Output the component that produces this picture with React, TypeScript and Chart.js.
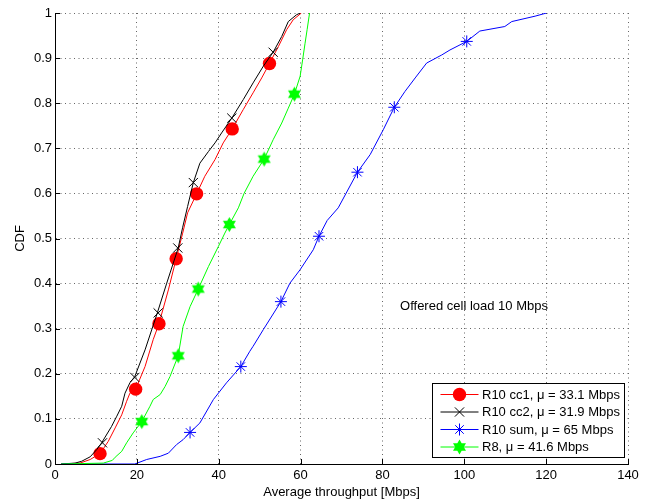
import React, { useEffect, useRef } from 'react';
import { Chart, registerables } from 'chart.js';

Chart.register(...registerables);

// ---- axis ticks ----
const xTicks = [0, 20, 40, 60, 80, 100, 120, 140];
const yTicks = [0, 0.1, 0.2, 0.3, 0.4, 0.5, 0.6, 0.7, 0.8, 0.9, 1];
const yTickLabels = ['0', '0.1', '0.2', '0.3', '0.4', '0.5', '0.6', '0.7', '0.8', '0.9', '1'];

const xAxisTitle = 'Average throughput [Mbps]';
const yAxisTitle = 'CDF';
const annotationText = 'Offered cell load 10 Mbps';
const annotationX = 84.3;
const annotationY = 0.349;

const seriesNames = [
  'R10 cc1, \u03bc = 33.1 Mbps',
  'R10 cc2, \u03bc = 31.9 Mbps',
  'R10 sum, \u03bc = 65 Mbps',
  'R8, \u03bc = 41.6 Mbps',
];
const seriesColors = ['#ff0000', '#000000', '#0000ff', '#00ff00'];

// ---- R10 cc1 (red) ----
const cc1X = [1.5, 6.1, 8.6, 11.0, 13.0, 14.7, 16.3, 17.5, 18.3, 19.7, 22.0, 24.0, 25.4, 27.7, 29.6, 31.2, 32.4, 34.6, 36.6, 39.1, 41.1, 43.3, 46.0, 48.4, 50.5, 52.4, 54.6, 56.6, 58.2, 60.2];
const cc1Y = [0, 0.002, 0.01, 0.023, 0.05, 0.08, 0.109, 0.139, 0.157, 0.166, 0.216, 0.276, 0.311, 0.386, 0.455, 0.512, 0.557, 0.599, 0.638, 0.675, 0.712, 0.743, 0.786, 0.823, 0.856, 0.888, 0.926, 0.963, 0.985, 1];
const cc1MarkX = [11.0, 19.7, 25.4, 29.6, 34.6, 43.3, 52.4];
const cc1MarkY = [0.023, 0.166, 0.311, 0.455, 0.599, 0.743, 0.888];

// ---- R10 cc2 (black) ----
const cc2X = [1.5, 4.9, 6.5, 8.6, 10.2, 11.4, 13.8, 15.1, 16.3, 17.1, 18.3, 19.5, 22.0, 25.0, 27.3, 30.1, 31.2, 32.4, 33.8, 35.4, 37.5, 39.1, 40.7, 43.2, 46.0, 48.4, 50.9, 53.3, 55.4, 57.0, 59.0, 59.9];
const cc2Y = [0, 0.002, 0.006, 0.016, 0.032, 0.047, 0.083, 0.106, 0.128, 0.157, 0.18, 0.194, 0.253, 0.335, 0.401, 0.479, 0.525, 0.571, 0.624, 0.667, 0.693, 0.712, 0.734, 0.767, 0.808, 0.845, 0.882, 0.913, 0.948, 0.981, 0.996, 1];
const cc2MarkX = [11.6, 19.5, 25.2, 30.0, 33.8, 43.2, 53.3];
const cc2MarkY = [0.047, 0.192, 0.335, 0.479, 0.624, 0.767, 0.913];

// ---- R10 sum (blue) ----
const sumX = [1.5, 19.5, 22.4, 25.7, 27.7, 29.7, 31.3, 33.0, 35.4, 38.7, 41.9, 45.4, 47.6, 48.4, 50.9, 55.2, 57.4, 59.9, 63.1, 64.5, 66.5, 69.2, 73.9, 77.0, 80.2, 82.9, 85.5, 88.0, 90.8, 94.5, 96.5, 100.6, 103.8, 109.9, 111.6, 117.3, 120.1];
const sumY = [0, 0, 0.01, 0.017, 0.024, 0.043, 0.054, 0.07, 0.091, 0.143, 0.18, 0.216, 0.25, 0.261, 0.298, 0.36, 0.401, 0.431, 0.475, 0.505, 0.54, 0.568, 0.647, 0.686, 0.741, 0.791, 0.826, 0.856, 0.889, 0.907, 0.918, 0.937, 0.96, 0.97, 0.981, 0.993, 1];
const sumMarkX = [33.0, 45.4, 55.2, 64.5, 73.9, 82.9, 100.6];
const sumMarkY = [0.07, 0.216, 0.36, 0.505, 0.647, 0.791, 0.937];

// ---- R8 (green) ----
const r8X = [1.5, 11.8, 14.0, 14.7, 16.3, 17.5, 19.1, 21.2, 23.2, 24.0, 25.7, 26.9, 28.1, 30.1, 31.3, 33.0, 35.0, 37.5, 39.9, 41.5, 42.6, 44.8, 46.2, 48.4, 51.1, 53.3, 55.4, 57.0, 58.5, 59.9, 60.5, 61.1, 61.6, 62.2];
const r8Y = [0, 0.002, 0.008, 0.015, 0.028, 0.047, 0.069, 0.094, 0.128, 0.143, 0.154, 0.172, 0.194, 0.24, 0.305, 0.349, 0.388, 0.438, 0.482, 0.512, 0.531, 0.568, 0.6, 0.638, 0.676, 0.719, 0.756, 0.789, 0.82, 0.86, 0.896, 0.933, 0.963, 1];
const r8MarkX = [21.2, 30.1, 35.0, 42.6, 51.1, 58.5];
const r8MarkY = [0.094, 0.24, 0.388, 0.531, 0.676, 0.82];

const FONT = '"Liberation Sans", Arial, Helvetica, sans-serif';

const zip = (xs: number[], ys: number[]) => xs.map((x, i) => ({ x, y: ys[i] }));

function hexagramPath(ctx: CanvasRenderingContext2D, cx: number, cy: number, r: number) {
  ctx.beginPath();
  for (let k = 0; k < 2; k++) {
    const off = k === 0 ? -Math.PI / 2 : Math.PI / 2;
    for (let i = 0; i < 3; i++) {
      const a = off + (i * 2 * Math.PI) / 3;
      const px = cx + r * Math.cos(a);
      const py = cy + r * Math.sin(a);
      if (i === 0) ctx.moveTo(px, py);
      else ctx.lineTo(px, py);
    }
    ctx.closePath();
  }
}

function makeHexagram(): HTMLCanvasElement {
  const c = document.createElement('canvas');
  c.width = 17;
  c.height = 17;
  const g = c.getContext('2d')!;
  hexagramPath(g, 8.5, 8.5, 7.5);
  g.fillStyle = '#00ff00';
  g.fill('nonzero');
  return c;
}

function drawMarker(ctx: CanvasRenderingContext2D, kind: number, cx: number, cy: number) {
  ctx.save();
  ctx.lineWidth = 1;
  if (kind === 0) {
    ctx.fillStyle = '#ff0000';
    ctx.beginPath();
    ctx.arc(cx, cy, 6.7, 0, Math.PI * 2);
    ctx.fill();
  } else if (kind === 1) {
    ctx.strokeStyle = '#000000';
    const d = 4.6;
    ctx.beginPath();
    ctx.moveTo(cx - d, cy - d);
    ctx.lineTo(cx + d, cy + d);
    ctx.moveTo(cx - d, cy + d);
    ctx.lineTo(cx + d, cy - d);
    ctx.stroke();
  } else if (kind === 2) {
    ctx.strokeStyle = '#0000ff';
    const r = 6;
    const d = r * Math.SQRT1_2;
    ctx.beginPath();
    ctx.moveTo(cx - r, cy);
    ctx.lineTo(cx + r, cy);
    ctx.moveTo(cx, cy - r);
    ctx.lineTo(cx, cy + r);
    ctx.moveTo(cx - d, cy - d);
    ctx.lineTo(cx + d, cy + d);
    ctx.moveTo(cx - d, cy + d);
    ctx.lineTo(cx + d, cy - d);
    ctx.stroke();
  } else {
    ctx.fillStyle = '#00ff00';
    hexagramPath(ctx, cx, cy, 7.5);
    ctx.fill('nonzero');
  }
  ctx.restore();
}

const overlayPlugin = {
  id: 'overlay',
  afterDatasetsDraw(chart: any) {
    const { ctx, chartArea, scales } = chart;
    const xs = scales.x;
    const ys = scales.y;
    ctx.save();
    // inward tick marks
    ctx.strokeStyle = '#000';
    ctx.lineWidth = 1;
    ctx.beginPath();
    for (const t of xTicks) {
      const px = Math.round(xs.getPixelForValue(t)) + 0.5;
      ctx.moveTo(px, chartArea.bottom);
      ctx.lineTo(px, chartArea.bottom - 5);
    }
    for (const t of yTicks) {
      const py = Math.round(ys.getPixelForValue(t)) + 0.5;
      ctx.moveTo(chartArea.left, py);
      ctx.lineTo(chartArea.left + 5, py);
    }
    ctx.stroke();

    // annotation
    ctx.fillStyle = '#000';
    ctx.font = '13px ' + FONT;
    ctx.textAlign = 'left';
    ctx.textBaseline = 'middle';
    ctx.fillText(annotationText, xs.getPixelForValue(annotationX), ys.getPixelForValue(annotationY));

    // legend box
    const bw = 192;
    const bh = 74;
    const bx = Math.round(chartArea.right - 4 - bw) + 0.5;
    const by = Math.round(chartArea.bottom - 7 - bh) + 0.5;
    ctx.fillStyle = '#ffffff';
    ctx.fillRect(bx, by, bw, bh);
    ctx.strokeStyle = '#000';
    ctx.lineWidth = 1;
    ctx.strokeRect(bx, by, bw, bh);
    for (let i = 0; i < seriesNames.length; i++) {
      const cy = by + 11 + i * 17.5;
      ctx.strokeStyle = seriesColors[i];
      ctx.lineWidth = 1;
      ctx.beginPath();
      ctx.moveTo(bx + 8, cy);
      ctx.lineTo(bx + 46, cy);
      ctx.stroke();
      drawMarker(ctx, i, bx + 27, cy);
      ctx.fillStyle = '#000';
      ctx.font = '13px ' + FONT;
      ctx.textAlign = 'left';
      ctx.textBaseline = 'middle';
      ctx.fillText(seriesNames[i], bx + 49.5, cy + 0.5);
    }
    ctx.restore();
  },
};

export default function App() {
  const ref = useRef<HTMLCanvasElement | null>(null);

  useEffect(() => {
    if (!ref.current) return;
    const hex = makeHexagram();
    const lineBase = {
      type: 'line' as const,
      pointRadius: 0,
      pointHoverRadius: 0,
      borderWidth: 1,
      tension: 0,
      fill: false,
    };
    const markBase = {
      type: 'line' as const,
      showLine: false,
      borderWidth: 1,
      pointHoverRadius: 0,
    };
    const chart = new Chart(ref.current, {
      type: 'line',
      data: {
        datasets: [
          { ...lineBase, label: seriesNames[0], data: zip(cc1X, cc1Y), borderColor: seriesColors[0], order: 8 },
          { ...markBase, label: 'm0', data: zip(cc1MarkX, cc1MarkY), pointStyle: 'circle', pointRadius: 6.7, pointBackgroundColor: '#ff0000', pointBorderColor: '#ff0000', pointBorderWidth: 0, order: 7 },
          { ...lineBase, label: seriesNames[1], data: zip(cc2X, cc2Y), borderColor: seriesColors[1], order: 6 },
          { ...markBase, label: 'm1', data: zip(cc2MarkX, cc2MarkY), pointStyle: 'crossRot', pointRadius: 6.5, pointBorderColor: '#000000', pointBorderWidth: 1, order: 5 },
          { ...lineBase, label: seriesNames[2], data: zip(sumX, sumY), borderColor: seriesColors[2], order: 4 },
          { ...markBase, label: 'm2', data: zip(sumMarkX, sumMarkY), pointStyle: 'star', pointRadius: 6, pointBorderColor: '#0000ff', pointBorderWidth: 1, order: 3 },
          { ...lineBase, label: seriesNames[3], data: zip(r8X, r8Y), borderColor: seriesColors[3], order: 2 },
          { ...markBase, label: 'm3', data: zip(r8MarkX, r8MarkY), pointStyle: hex as any, pointRadius: 7, order: 1 },
        ] as any,
      },
      options: {
        responsive: false,
        animation: false,
        devicePixelRatio: 1,
        events: [],
        layout: { padding: { left: 0, top: 13, right: 27, bottom: 0 } },
        plugins: {
          legend: { display: false },
          tooltip: { enabled: false },
        },
        scales: {
          x: {
            type: 'linear',
            min: 0,
            max: 140,
            afterFit: (s: any) => { s.height = 36; },
            afterBuildTicks: (s: any) => { s.ticks = xTicks.map((v) => ({ value: v })); },
            ticks: {
              color: '#000',
              padding: 4,
              maxRotation: 0,
              autoSkip: false,
              font: { family: FONT, size: 13 },
              callback: (v: any) => String(v),
            },
            grid: { color: 'rgba(0,0,0,0.6)', lineWidth: 1, drawTicks: false },
            border: { display: true, color: '#000', width: 1, dash: [1, 3.5] },
            title: {
              display: true,
              text: xAxisTitle,
              color: '#000',
              font: { family: FONT, size: 13 },
              padding: { top: 0, bottom: 0 },
            },
          },
          y: {
            type: 'linear',
            min: 0,
            max: 1,
            afterFit: (s: any) => { s.width = 55; },
            afterBuildTicks: (s: any) => { s.ticks = yTicks.map((v) => ({ value: v })); },
            ticks: {
              color: '#000',
              padding: 3,
              autoSkip: false,
              font: { family: FONT, size: 13 },
              callback: (v: any) => {
                const i = yTicks.findIndex((t) => Math.abs(t - v) < 1e-9);
                return i >= 0 ? yTickLabels[i] : '';
              },
            },
            grid: { color: 'rgba(0,0,0,0.6)', lineWidth: 1, drawTicks: false },
            border: { display: true, color: '#000', width: 1, dash: [1, 3.5] },
            title: {
              display: true,
              text: yAxisTitle,
              color: '#000',
              font: { family: FONT, size: 13 },
              padding: { top: 13, bottom: 0 },
            },
          },
        },
      },
      plugins: [overlayPlugin],
    } as any);
    return () => chart.destroy();
  }, []);

  return (
    <div style={{ position: 'absolute', left: 0, top: 0, width: 655, height: 500, background: '#fff' }}>
      <canvas ref={ref} width={655} height={500} style={{ display: 'block' }} />
    </div>
  );
}
